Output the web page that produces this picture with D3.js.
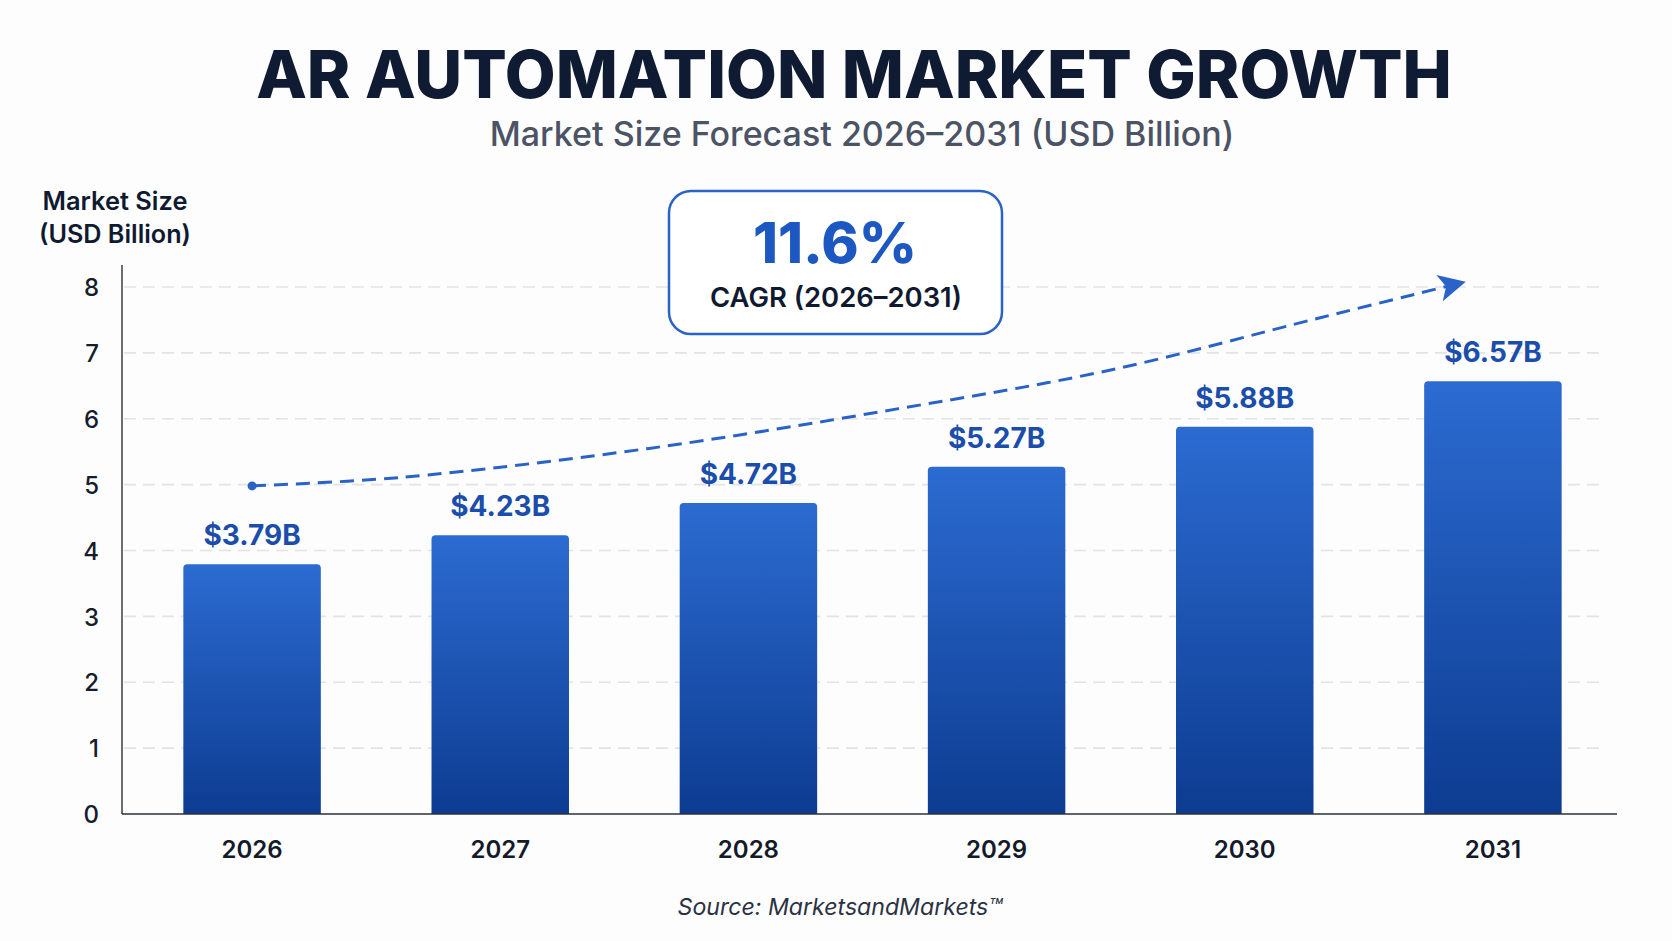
<!DOCTYPE html>
<html>
<head>
<meta charset="utf-8">
<script src="https://cdn.jsdelivr.net/npm/d3@7"></script>
<style>
  html, body { margin: 0; padding: 0; background: #fdfdfd; }
  svg { display: block; font-family: Inter, "Noto Sans", sans-serif; }
</style>
</head>
<body>
<div id="viz"></div>
<script>
// data
const years = ['2026', '2027', '2028', '2029', '2030', '2031'];
const values = [3.79, 4.23, 4.72, 5.27, 5.88, 6.57];
const valueLabels = ['$3.79B', '$4.23B', '$4.72B', '$5.27B', '$5.88B', '$6.57B'];
const yTicks = [0, 1, 2, 3, 4, 5, 6, 7, 8];
// dashed trend arrow (year position, value)
const trendYears = [2026, 2026.6, 2027.6, 2028.6, 2029.46, 2030.3, 2030.88];
const trendValues = [4.98, 5.11, 5.55, 6.15, 6.74, 7.53, 8.07];
const cagrValue = '11.6%';
const cagrLabel = 'CAGR (2026–2031)';

const width = 1672, height = 941;
const margin = {top: 265, right: 55, bottom: 127, left: 122};

const svg = d3.select('#viz').append('svg')
  .attr('width', width)
  .attr('height', height)
  .attr('role', 'img')
  .attr('aria-label', 'AR automation market growth bar chart');

const defs = svg.append('defs');
const grad = defs.append('linearGradient')
  .attr('id', 'barGrad')
  .attr('x1', 0).attr('y1', 0).attr('x2', 0).attr('y2', 1);
grad.append('stop').attr('offset', '0%').attr('stop-color', '#2c6bd1');
grad.append('stop').attr('offset', '100%').attr('stop-color', '#0d3c91');

defs.append('marker')
  .attr('id', 'arrowHead')
  .attr('viewBox', '0 0 10 10')
  .attr('refX', 9).attr('refY', 5)
  .attr('markerWidth', 9).attr('markerHeight', 9)
  .attr('markerUnits', 'strokeWidth')
  .attr('orient', 'auto')
  .append('path')
  .attr('d', 'M0,0 L10,5 L0,10 L2.5,5 Z')
  .attr('fill', '#2a63c8');

// shrink/grow a text so it spans the given width
function fitText(sel, target) {
  const node = sel.node();
  const size = parseFloat(sel.attr('font-size'));
  const w = node.getComputedTextLength();
  sel.attr('font-size', size * target / w);
}

// scales
const x = d3.scaleBand()
  .domain(years)
  .range([128, 1617])
  .paddingInner(0.446)
  .paddingOuter(0.223);

const y = d3.scaleLinear()
  .domain([0, 8])
  .range([814, 287]);

const xYear = d3.scaleLinear()
  .domain([2026, 2031])
  .range([x('2026') + x.bandwidth() / 2, x('2031') + x.bandwidth() / 2]);

// titles
const title = svg.append('text')
  .attr('x', 854).attr('y', 98)
  .attr('text-anchor', 'middle')
  .attr('font-size', 70).attr('font-weight', 800)
  .attr('fill', '#0e1b33')
  .text('AR AUTOMATION MARKET GROWTH');
fitText(title, 1196);

const subtitle = svg.append('text')
  .attr('x', 862).attr('y', 146)
  .attr('text-anchor', 'middle')
  .attr('font-size', 32).attr('font-weight', 500)
  .attr('fill', '#4b5365')
  .text('Market Size Forecast 2026–2031 (USD Billion)');
fitText(subtitle, 745);

// y axis title
const yTitle = svg.append('g').attr('fill', '#0f1a30').attr('font-weight', 600);
fitText(yTitle.append('text').attr('x', 115).attr('y', 210).attr('text-anchor', 'middle')
  .attr('font-size', 23).text('Market Size'), 145);
fitText(yTitle.append('text').attr('x', 115).attr('y', 243).attr('text-anchor', 'middle')
  .attr('font-size', 23).text('(USD Billion)'), 152);

// gridlines
svg.append('g')
  .selectAll('line')
  .data(yTicks.filter(d => d > 0))
  .join('line')
  .attr('x1', 124).attr('x2', 1600)
  .attr('y1', d => y(d)).attr('y2', d => y(d))
  .attr('stroke', '#e2e3e6')
  .attr('stroke-width', 1.6)
  .attr('stroke-dasharray', '12 7');

// y axis
const yAxis = svg.append('g')
  .attr('transform', `translate(${margin.left},0)`)
  .call(d3.axisLeft(y).tickValues(yTicks).tickSize(0).tickPadding(23).tickFormat(d3.format('d')));
yAxis.select('.domain').remove();
yAxis.selectAll('text')
  .attr('font-size', 24)
  .attr('font-family', 'Inter, sans-serif')
  .attr('font-weight', 500)
  .attr('fill', '#151c2c')
  .attr('dy', '0.36em');

svg.append('line')
  .attr('x1', margin.left).attr('x2', margin.left)
  .attr('y1', margin.top).attr('y2', y(0))
  .attr('stroke', '#3a3d45').attr('stroke-width', 1.5);

// bars
const barR = 4;
svg.append('g')
  .selectAll('path')
  .data(years)
  .join('path')
  .attr('d', (d, i) => {
    const x0 = x(d), x1 = x(d) + x.bandwidth(), y0 = y(0), y1 = y(values[i]);
    return `M${x0},${y0} L${x0},${y1 + barR} Q${x0},${y1} ${x0 + barR},${y1} ` +
      `L${x1 - barR},${y1} Q${x1},${y1} ${x1},${y1 + barR} L${x1},${y0} Z`;
  })
  .attr('fill', 'url(#barGrad)');

// value labels
svg.append('g')
  .selectAll('text')
  .data(years)
  .join('text')
  .attr('x', d => x(d) + x.bandwidth() / 2)
  .attr('y', (d, i) => y(values[i]) - 19)
  .attr('text-anchor', 'middle')
  .attr('font-size', 28)
  .attr('font-weight', 700)
  .attr('fill', '#1b4dab')
  .text((d, i) => valueLabels[i]);

// x axis
const xAxis = svg.append('g')
  .attr('transform', `translate(0,${y(0)})`)
  .call(d3.axisBottom(x).tickSize(0).tickPadding(27));
xAxis.select('.domain').remove();
xAxis.selectAll('text')
  .attr('font-size', 24)
  .attr('font-family', 'Inter, sans-serif')
  .attr('font-weight', 600)
  .attr('fill', '#131a2a');

svg.append('line')
  .attr('x1', margin.left).attr('x2', 1617)
  .attr('y1', y(0)).attr('y2', y(0))
  .attr('stroke', '#2b2f38').attr('stroke-width', 1.5);

// trend arrow
const trend = trendYears.map((t, i) => [xYear(t), y(trendValues[i])]);
svg.append('path')
  .datum(trend)
  .attr('d', d3.line().curve(d3.curveCatmullRom))
  .attr('fill', 'none')
  .attr('stroke', '#2a63c8')
  .attr('stroke-width', 3)
  .attr('stroke-dasharray', '14 8')
  .attr('marker-end', 'url(#arrowHead)');
svg.append('circle')
  .attr('cx', trend[0][0]).attr('cy', trend[0][1])
  .attr('r', 4.5).attr('fill', '#2a63c8');

// CAGR callout
const box = svg.append('g');
box.append('rect')
  .attr('x', 669).attr('y', 191)
  .attr('width', 333).attr('height', 143)
  .attr('rx', 22)
  .attr('fill', '#ffffff')
  .attr('stroke', '#2a63c8')
  .attr('stroke-width', 2.5);
fitText(box.append('text')
  .attr('x', 835).attr('y', 263)
  .attr('text-anchor', 'middle')
  .attr('font-size', 60).attr('font-weight', 800)
  .attr('fill', '#1d58c2')
  .text(cagrValue), 164);
fitText(box.append('text')
  .attr('x', 836).attr('y', 307)
  .attr('text-anchor', 'middle')
  .attr('font-size', 27).attr('font-weight', 600)
  .attr('fill', '#0f1a30')
  .text(cagrLabel), 252);

// source
const src = svg.append('text')
  .attr('x', 840).attr('y', 915)
  .attr('text-anchor', 'middle')
  .attr('font-size', 22).attr('font-style', 'italic')
  .attr('fill', '#2a3242')
  .text('Source: MarketsandMarkets™');
fitText(src, 325);
</script>
</body>
</html>
